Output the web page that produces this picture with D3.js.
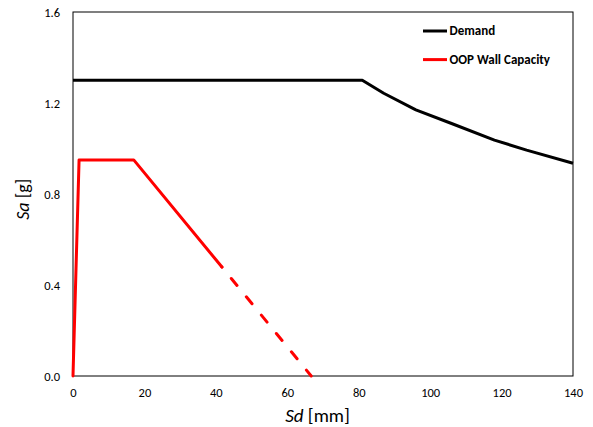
<!DOCTYPE html>
<html><head><meta charset="utf-8">
<script src="https://cdn.jsdelivr.net/npm/d3@7"></script>
<style>body{margin:0;background:#fff}</style>
</head><body><svg id="c" width="593" height="427"></svg>
<script>
// Data
const demandSd = [0, 81, 87, 96, 106, 118, 127, 140];
const demandSa = [1.3, 1.3, 1.243, 1.17, 1.11, 1.037, 0.993, 0.935];
const capSolidSd = [0, 1.7, 17, 41.7];
const capSolidSa = [0, 0.95, 0.95, 0.479];
const capDashSd = [41.7, 66.7];
const capDashSa = [0.479, 0];
const xTicks = [0, 20, 40, 60, 80, 100, 120, 140];
const yTicks = [0.0, 0.4, 0.8, 1.2, 1.6];
const seriesNames = ["Demand", "OOP Wall Capacity"];
const seriesColors = ["#000000", "#ff0000"];

const font = "Carlito, Calibri, 'Noto Sans', sans-serif";
const svg = d3.select("#c");
const m = {l: 73, r: 573, t: 12, b: 376};
const x = d3.scaleLinear().domain([0, 140]).range([m.l, m.r]);
const y = d3.scaleLinear().domain([0, 1.6]).range([m.b, m.t]);

// frame
svg.append("rect").attr("x", m.l).attr("y", m.t).attr("width", m.r - m.l).attr("height", m.b - m.t)
  .attr("fill", "none").attr("stroke", "#000").attr("stroke-width", 1);

const xa = svg.append("g").attr("transform", `translate(0,${m.b})`)
  .call(d3.axisBottom(x).tickValues(xTicks).tickSize(0).tickPadding(0).tickFormat(d3.format("d")));
xa.selectAll("text").attr("y", 21).attr("dy", null);
const ya = svg.append("g").attr("transform", `translate(${m.l},0)`)
  .call(d3.axisLeft(y).tickValues(yTicks).tickSize(0).tickPadding(13).tickFormat(d3.format(".1f")));
[xa, ya].forEach(a => {
  a.select(".domain").remove();
  a.selectAll("text").attr("font-family", font).attr("font-size", 12.5).attr("fill", "#000");
});

const line = d3.line().x(d => x(d[0])).y(d => y(d[1]));
const zip = (a, b) => a.map((v, i) => [v, b[i]]);

svg.append("path").attr("d", line(zip(demandSd, demandSa)))
  .attr("fill", "none").attr("stroke", seriesColors[0]).attr("stroke-width", 3).attr("stroke-linejoin", "round");
svg.append("path").attr("d", line(zip(capSolidSd, capSolidSa)))
  .attr("fill", "none").attr("stroke", seriesColors[1]).attr("stroke-width", 3).attr("stroke-linejoin", "round")
  .attr("stroke-linecap", "round");
svg.append("path").attr("d", line(zip(capDashSd, capDashSa)))
  .attr("fill", "none").attr("stroke", seriesColors[1]).attr("stroke-width", 3)
  .attr("stroke-linecap", "round").attr("stroke-dasharray", "9,14.7").attr("stroke-dashoffset", 8.9);

// legend
const lg = svg.append("g");
seriesNames.forEach((n, i) => {
  const yy = 31 + i * 28.6;
  lg.append("line").attr("x1", 423).attr("x2", 447).attr("y1", yy).attr("y2", yy)
    .attr("stroke", seriesColors[i]).attr("stroke-width", 3);
  lg.append("text").attr("x", 449.5).attr("y", yy + 4.3).text(n)
    .attr("font-family", font).attr("font-size", 13).attr("font-weight", "bold");
});

// axis titles
const xt = svg.append("text").attr("x", 317.5).attr("y", 421.5).attr("text-anchor", "middle")
  .attr("font-family", font).attr("font-size", 19);
xt.append("tspan").attr("font-style", "italic").text("Sd");
xt.append("tspan").text(" [mm]");
const yt = svg.append("text").attr("transform", "translate(28.5,199.3) rotate(-90)").attr("text-anchor", "middle")
  .attr("font-family", font).attr("font-size", 18);
yt.append("tspan").attr("font-style", "italic").text("Sa");
yt.append("tspan").text(" [g]");
</script></body></html>
